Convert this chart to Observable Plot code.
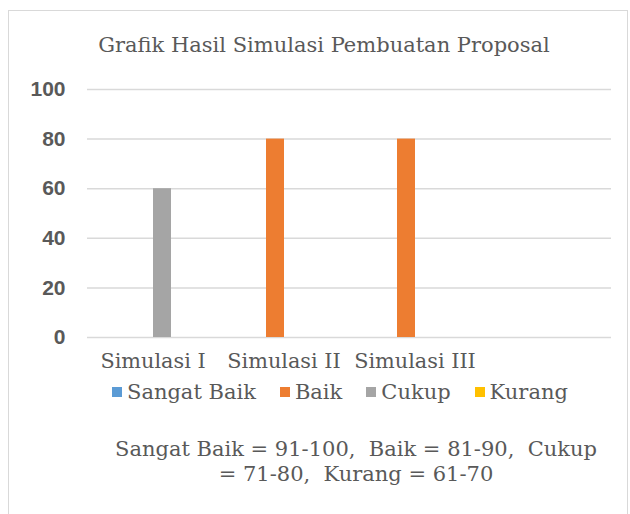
<!DOCTYPE html>
<html><head><meta charset="utf-8">
<script src="https://cdn.jsdelivr.net/npm/d3@7"></script>
<script src="https://cdn.jsdelivr.net/npm/@observablehq/plot@0.6"></script>
<style>
html,body{margin:0;padding:0;background:#fff;}
#frame{position:absolute;left:8px;top:10px;width:620px;height:520px;border:1px solid #d9d9d9;box-sizing:border-box;}
.serif{font-family:"DejaVu Serif",serif;color:#595959;font-size:21px;line-height:24px;white-space:nowrap;}
#title{position:absolute;left:24px;width:600px;top:33px;text-align:center;}
#chart{position:absolute;left:0;top:60px;}
#legend{position:absolute;left:112px;top:380px;}
#legend span.item{margin-right:24px;}
#legend span.sw{display:inline-block;width:10px;height:10px;margin-right:5px;vertical-align:2px;}
#caption{position:absolute;left:56px;width:600px;top:437px;text-align:center;line-height:25px;}
</style></head>
<body>
<div id="frame"></div>
<div id="title" class="serif"></div>
<div id="chart"></div>
<div id="legend" class="serif"></div>
<div id="caption" class="serif"></div>
<script>
const titleText = "Grafik Hasil Simulasi Pembuatan Proposal";
const categories = ["Simulasi I", "Simulasi II", "Simulasi III", ""];
const seriesNames = ["Sangat Baik", "Baik", "Cukup", "Kurang"];
const seriesColors = ["#5B9BD5", "#ED7D31", "#A5A5A5", "#FFC000"];
const sangatBaik = [0, 0, 0];
const baik = [0, 80, 80];
const cukup = [60, 0, 0];
const kurang = [0, 0, 0];
const yTicks = [0, 20, 40, 60, 80, 100];
const captionLines = ["Sangat Baik = 91-100,\u00a0\u00a0Baik = 81-90,\u00a0\u00a0Cukup", "= 71-80,\u00a0\u00a0Kurang = 61-70"];

const seriesValues = [sangatBaik, baik, cukup, kurang];
const data = [];
seriesNames.forEach((s, si) => {
  seriesValues[si].forEach((v, ci) => {
    data.push({category: categories[ci], series: s, value: v});
  });
});
const gridRows = [];
categories.forEach(c => yTicks.forEach(t => gridRows.push({category: c, tick: t})));

document.getElementById("title").textContent = titleText;

const chart = Plot.plot({
  width: 630,
  height: 320,
  marginLeft: 86,
  marginRight: 19,
  marginTop: 29,
  marginBottom: 43,
  style: {background: "transparent"},
  fx: {domain: categories, paddingInner: 0, paddingOuter: 0, label: null},
  x: {domain: seriesNames, paddingInner: 0, paddingOuter: 1.45, axis: null},
  y: {domain: [0, 100], axis: null},
  color: {domain: seriesNames, range: seriesColors},
  marks: [
    Plot.ruleY(gridRows, {fx: "category", y: "tick", stroke: "#d9d9d9", strokeWidth: 1.5}),
    Plot.barY(data, {fx: "category", x: "series", y: "value", fill: "series", inset: 0}),
    Plot.axisY(yTicks, {tickSize: 0, tickPadding: 22, fontSize: 21, fontWeight: "bold", fontFamily: "Liberation Sans, sans-serif", fill: "#595959", label: null}),
    Plot.axisFx({anchor: "bottom", tickSize: 0, tickPadding: 16, fontSize: 20.8, fontFamily: "DejaVu Serif, serif", fill: "#595959", label: null})
  ]
});
document.getElementById("chart").appendChild(chart);

const leg = document.getElementById("legend");
seriesNames.forEach((s, i) => {
  const item = document.createElement("span");
  item.className = "item";
  const sw = document.createElement("span");
  sw.className = "sw";
  sw.style.background = seriesColors[i];
  item.appendChild(sw);
  item.appendChild(document.createTextNode(s));
  leg.appendChild(item);
});

const cap = document.getElementById("caption");
captionLines.forEach((l, i) => {
  const d = document.createElement("div");
  d.textContent = l;
  cap.appendChild(d);
});
</script>
</body></html>
